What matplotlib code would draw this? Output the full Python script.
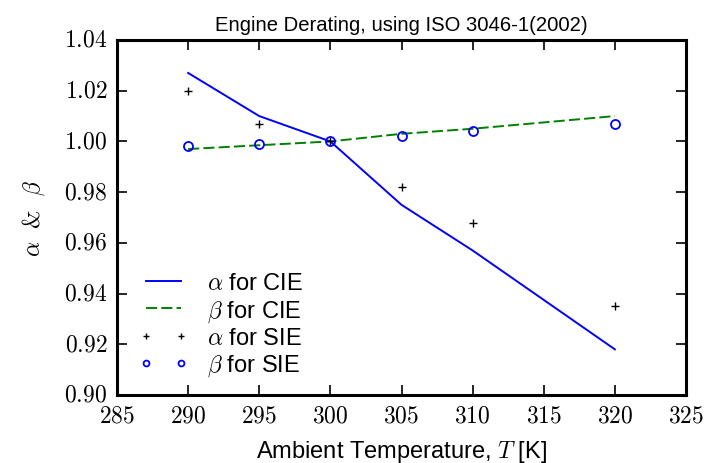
import matplotlib
matplotlib.use('Agg')
import matplotlib.pyplot as plt
from matplotlib.ticker import FuncFormatter

plt.style.use('classic')
plt.rcParams['mathtext.fontset'] = 'cm'
plt.rcParams['font.family'] = ['Liberation Sans', 'DejaVu Sans']

temps = [290, 295, 300, 305, 310, 320]
alpha_cie = [1.027, 1.010, 1.000, 0.975, 0.957, 0.918]
beta_cie = [0.997, 0.9985, 1.000, 1.003, 1.005, 1.010]
alpha_sie = [1.020, 1.007, 1.000, 0.982, 0.968, 0.935]
beta_sie = [0.998, 0.999, 1.000, 1.002, 1.004, 1.007]

fig = plt.figure(figsize=(7.1, 4.64), dpi=100, facecolor='white')
ax = fig.add_axes([117/710, 68/464, 569/710, 355/464])

ax.plot(temps, alpha_cie, 'b-', lw=1.4, label=r'$\alpha$ for CIE')
ax.plot(temps, beta_cie, 'g--', lw=1.4, dashes=(8, 3), label=r'$\beta$ for CIE')
ax.plot(temps, alpha_sie, 'k+', ms=6, mew=1.0, label=r'$\alpha$ for SIE')
ax.plot(temps, beta_sie, 'o', mfc='none', mec='b', ms=6.5, mew=1.3, label=r'$\beta$ for SIE')

ax.set_xlim(285, 325)
ax.set_ylim(0.90, 1.04)
ax.set_xticks(range(285, 326, 5))
ax.set_yticks([0.90, 0.92, 0.94, 0.96, 0.98, 1.00, 1.02, 1.04])
ax.xaxis.set_major_formatter(FuncFormatter(lambda v, p: r'$%d$' % v))
ax.yaxis.set_major_formatter(FuncFormatter(lambda v, p: r'$%.2f$' % v))
ax.tick_params(labelsize=17, length=7, width=1.2, direction='in', pad=7)
for s in ax.spines.values():
    s.set_linewidth(2.2)

ax.set_title('Engine Derating, using ISO 3046-1(2002)', fontsize=14.6, pad=7)
ax.set_xlabel(r'Ambient Temperature, $T$ [K]', fontsize=17, labelpad=8)
ax.set_ylabel(r'$\alpha\ \ &\ \ \beta$', fontsize=17, labelpad=12)

ax.legend(loc='lower left', bbox_to_anchor=(0.010, 0), frameon=False,
          numpoints=2, markerscale=0.65, fontsize=17,
          handlelength=2.05, handletextpad=0.8, labelspacing=0.15,
          borderaxespad=0.3)

fig.savefig('out.png', dpi=100, facecolor='white')
